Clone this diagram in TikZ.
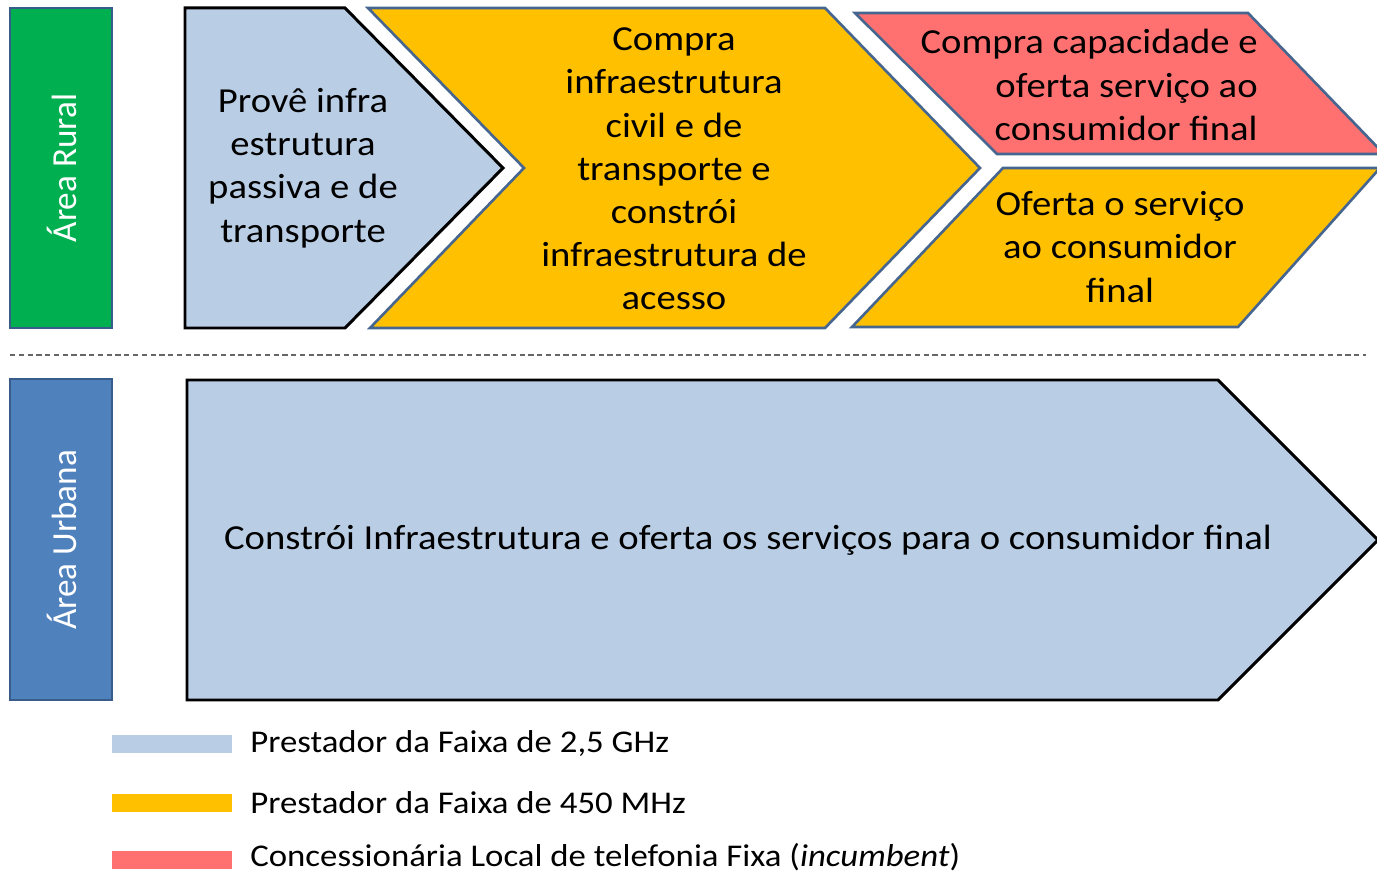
\documentclass[tikz,border=0pt]{standalone}
\usepackage{fontspec}
\setmainfont{Carlito}[FakeStretch=1.1]
\newfontfamily\rotulo{Carlito}
\definecolor{azulclaro}{HTML}{B9CDE5}
\definecolor{amarelo}{HTML}{FFC000}
\definecolor{vermelho}{HTML}{FF7171}
\definecolor{verde}{HTML}{00B050}
\definecolor{azul}{HTML}{4F81BD}
\definecolor{bordaazul}{HTML}{385D8A}
\definecolor{bordacinza}{HTML}{46668F}

\begin{document}
\begin{tikzpicture}[x=0.02cm,y=-0.02cm,font=\fontsize{20}{24.6}\selectfont,
  preto/.style={draw=black,line width=1.7pt,line join=miter},
  cinza/.style={draw=bordacinza,line width=1.5pt,line join=miter},
  texto/.style={align=center,inner sep=0pt},
  legenda/.style={anchor=west,inner sep=0pt,font=\fontsize{18}{22}\selectfont}]
\useasboundingbox (0,0) rectangle (1377,874);
\fill[white] (0,0) rectangle (1377,874);
\draw[fill=verde,draw=bordaazul,line width=1pt] (10,8) rectangle (112,328);
\draw[fill=azul,draw=bordaazul,line width=1pt] (10,379) rectangle (112,700);
\node[rotate=90,text=white,font=\rotulo\fontsize{20}{24}\selectfont] (rural)at(62,168){Área Rural};
\node[rotate=90,text=white,font=\rotulo\fontsize{20}{24}\selectfont] (urbana)at(62,540){Área Urbana};
\draw[gray!80!black,line width=0.8pt,dash pattern=on 3pt off 2pt] (10,355) -- (1366,355);
\draw[preto,fill=azulclaro] (185,8) -- (345,8) -- (503,168) -- (345,328) -- (185,328) -- cycle;
\draw[cinza,fill=amarelo] (368,8) -- (825,8) -- (980,168) -- (825,328) -- (370,328) -- (524,168) -- cycle;
\draw[cinza,fill=vermelho] (855,13) -- (1248,13) -- (1384,154) -- (997,154) -- cycle;
\draw[cinza,fill=amarelo] (1003,168) -- (1380,168) -- (1238,327) -- (852,327) -- cycle;
\draw[preto,fill=azulclaro] (187,380) -- (1218,380) -- (1378,540) -- (1218,700) -- (187,700) -- cycle;
\node[texto] (prove)at(303,168){Provê infra\\estrutura\\passiva e de\\transporte};
\node[texto] (compra)at(674,169){Compra\\infraestrutura\\civil e de\\transporte e\\constrói\\infraestrutura de\\acesso};
\node[texto,align=right,anchor=east] (capacidade)at(1258,85){Compra capacidade e\\oferta serviço ao\\consumidor final};
\node[texto] (oferta)at(1120,247){Oferta o serviço\\ao consumidor\\final};
\node[texto] (constroi)at(748,540){Constrói Infraestrutura e oferta os serviços para o consumidor final};
\fill[azulclaro] (112,735) rectangle (232,753);
\fill[amarelo] (112,794) rectangle (232,812);
\fill[vermelho] (112,851) rectangle (232,869);
\node[legenda] (faixa25)at(250,744){Prestador da Faixa de 2,5 GHz};
\node[legenda] (faixa450)at(250,803){Prestador da Faixa de 450 MHz};
\node[legenda] (incumbent)at(250,857){Concessionária Local de telefonia Fixa (\textit{incumbent})};
\end{tikzpicture}
\end{document}
